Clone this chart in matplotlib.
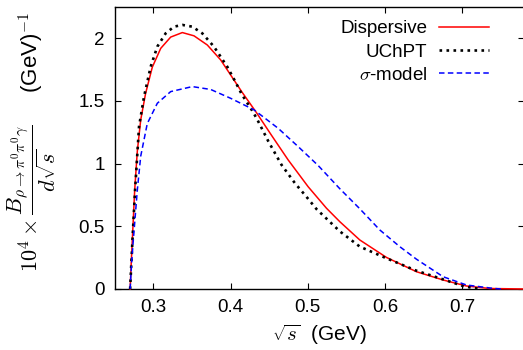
import matplotlib
matplotlib.use("Agg")
import matplotlib.pyplot as plt

# values (sqrt(s) in GeV, 10^4 x dB/dsqrt(s))
disp_x = [0.2700, 0.2712, 0.2728, 0.2759, 0.2793, 0.2837, 0.2900, 0.2987, 0.3096, 0.3225,
          0.3376, 0.3527, 0.3699, 0.3872, 0.4044, 0.4144, 0.4338, 0.4532, 0.4746, 0.5005,
          0.5243, 0.5415, 0.5674, 0.6019, 0.6407, 0.6752, 0.7054, 0.7356, 0.7800]
disp_y = [0.0, 0.18, 0.39, 0.79, 1.10, 1.35, 1.56, 1.77, 1.92, 2.01,
          2.046, 2.02, 1.947, 1.828, 1.668, 1.575, 1.405, 1.225, 1.03, 0.816,
          0.644, 0.537, 0.391, 0.252, 0.138, 0.072, 0.024, 0.004, 0.0]

uchpt_x = [0.2700, 0.2715, 0.2735, 0.2765, 0.2815, 0.2880, 0.2966, 0.3052, 0.3160, 0.3268,
           0.3376, 0.3505, 0.3634, 0.3785, 0.3957, 0.4057, 0.4144, 0.4273, 0.4338, 0.4488,
           0.4661, 0.4833, 0.4984, 0.5114, 0.5415, 0.5674, 0.6019, 0.6407, 0.6752, 0.7010,
           0.7140, 0.7250]
uchpt_y = [0.0, 0.2, 0.45, 0.8, 1.295, 1.535, 1.774, 1.934, 2.04, 2.093,
           2.107, 2.093, 2.04, 1.934, 1.774, 1.66, 1.555, 1.43, 1.362, 1.18,
           0.99, 0.845, 0.735, 0.637, 0.46, 0.338, 0.245, 0.146, 0.077, 0.024,
           0.008, 0.0]

sigma_x = [0.2700, 0.2718, 0.2741, 0.2793, 0.2837, 0.2922, 0.3052, 0.3225, 0.3505, 0.3743,
           0.4000, 0.4303, 0.4617, 0.4876, 0.5135, 0.5415, 0.5674, 0.5933, 0.6191, 0.6407,
           0.6752, 0.7054, 0.7400, 0.7500]
sigma_y = [0.0, 0.2, 0.39, 0.79, 1.06, 1.32, 1.482, 1.575, 1.615, 1.592,
           1.522, 1.43, 1.282, 1.136, 0.985, 0.80, 0.64, 0.471, 0.338, 0.238,
           0.098, 0.032, 0.005, 0.0]

x_ticks = [0.3, 0.4, 0.5, 0.6, 0.7]
y_ticks = [0, 0.5, 1, 1.5, 2]
y_ticklabels = ['0', '0.5', '1', '1.5', '2']

plt.rcParams['font.family'] = ['Liberation Sans', 'DejaVu Sans']
plt.rcParams['mathtext.fontset'] = 'cm'

fig = plt.figure(figsize=(5.23, 3.5), dpi=100)
ax = fig.add_axes([0.2193, 0.1743, 0.7826, 0.8057])

ax.plot(disp_x, disp_y, color='#ff0000', lw=1.1, label='Dispersive', zorder=3, clip_on=False)
ax.plot(uchpt_x, uchpt_y, color='black', lw=1.9, linestyle=':', label='UChPT', zorder=3, clip_on=False)
ax.plot(sigma_x, sigma_y, color='#0000ff', lw=1.1, linestyle=(0, (3.6, 2.2)),
        label=r'$\sigma$-model', zorder=3, clip_on=False)

ax.set_xlim(0.25, 0.78)
ax.set_ylim(0, 2.25)
ax.set_xticks(x_ticks)
ax.set_xticklabels([str(t) for t in x_ticks])
ax.set_yticks(y_ticks)
ax.set_yticklabels(y_ticklabels)
ax.tick_params(direction='in', top=True, right=True, length=4.3, width=0.8,
               labelsize=13.5, pad=7)
for s in ax.spines.values():
    s.set_linewidth(1.0)

ax.set_xlabel(r'$\sqrt{s}$  (GeV)', fontsize=15)
ax.xaxis.set_label_coords(0.5, -0.12)
ax.set_ylabel(r'$10^4\times\dfrac{B_{\rho\to\pi^0\pi^0\gamma}}{d\sqrt{s}}$     (GeV)$^{-1}$', fontsize=16)
ax.yaxis.set_label_coords(-0.138, 0.521)

ax.legend(loc='upper right', bbox_to_anchor=(0.915, 0.953), frameon=False, markerfirst=False,
          fontsize=13.5, handlelength=2.7, handletextpad=0.6, labelspacing=0.33, borderpad=0,
          borderaxespad=0)

fig.savefig('out.png', dpi=100)
